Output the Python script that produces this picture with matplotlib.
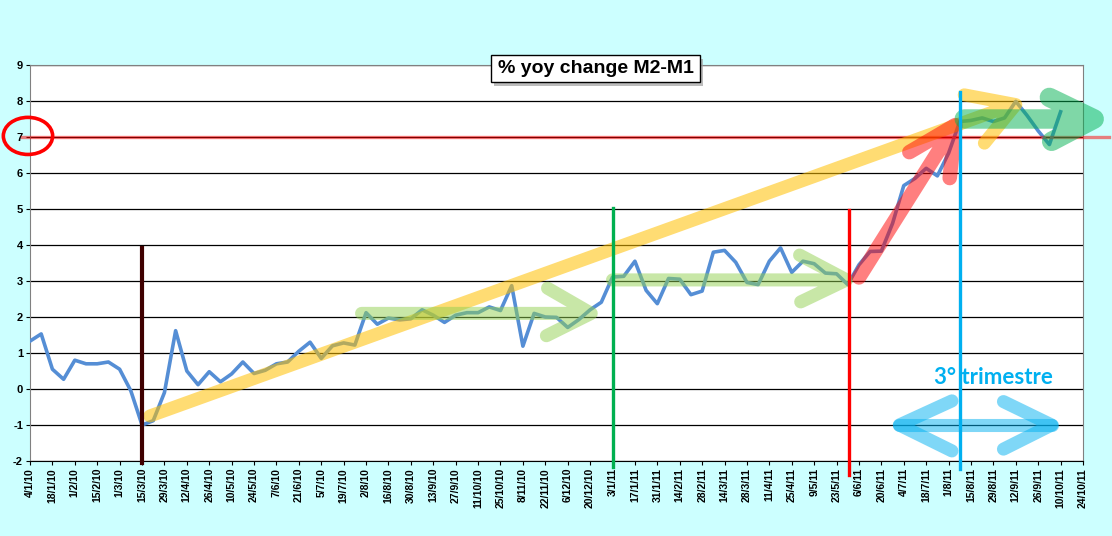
#!/usr/bin/env python3
# % yoy change M2-M1, weekly, Jan 2010 - Oct 2011, with hand-drawn trend arrows

import numpy as np
import matplotlib
matplotlib.use("Agg")
import matplotlib.pyplot as plt
from matplotlib.patches import Ellipse, Rectangle

plt.rcParams["font.family"] = ["Liberation Sans", "DejaVu Sans"]
plt.rcParams["axes.unicode_minus"] = False

# tick labels, one every second week (week index 0, 2, ..., 94)
tick_labels = [
    "4/1/10", "18/1/10", "1/2/10", "15/2/10", "1/3/10", "15/3/10", "29/3/10",
    "12/4/10", "26/4/10", "10/5/10", "24/5/10", "7/6/10", "21/6/10", "5/7/10",
    "19/7/10", "2/8/10", "16/8/10", "30/8/10", "13/9/10", "27/9/10", "11/10/10",
    "25/10/10", "8/11/10", "22/11/10", "6/12/10", "20/12/10", "3/1/11",
    "17/1/11", "31/1/11", "14/2/11", "28/2/11", "14/3/11", "28/3/11", "11/4/11",
    "25/4/11", "9/5/11", "23/5/11", "6/6/11", "20/6/11", "4/7/11", "18/7/11",
    "1/8/11", "15/8/11", "29/8/11", "12/9/11", "26/9/11", "10/10/11", "24/10/11",
]

# weekly values (week 0 = 4/1/10)
m2_m1 = [
    1.33, 1.53, 0.55, 0.27, 0.80, 0.70, 0.70, 0.75, 0.55, -0.05,
    -1.00, -0.88, -0.10, 1.62, 0.50, 0.12, 0.48, 0.20, 0.42, 0.75,
    0.43, 0.52, 0.70, 0.75, 1.05, 1.30, 0.85, 1.20, 1.28, 1.22,
    2.12, 1.80, 1.97, 1.92, 1.95, 2.20, 2.05, 1.85, 2.05, 2.12,
    2.12, 2.28, 2.18, 2.87, 1.19, 2.10, 2.00, 1.99, 1.71, 1.93,
    2.20, 2.41, 3.11, 3.13, 3.55, 2.74, 2.37, 3.07, 3.05, 2.62,
    2.72, 3.80, 3.85, 3.52, 2.96, 2.90, 3.55, 3.92, 3.24, 3.55,
    3.48, 3.22, 3.20, 2.90, 3.45, 3.82, 3.83, 4.60, 5.65, 5.85,
    6.13, 5.92, 6.55, 7.43, 7.46, 7.53, 7.43, 7.53, 7.99, 7.60,
    7.17, 6.79, 7.70,
]
weeks = np.arange(len(m2_m1))

fig = plt.figure(figsize=(11.12, 5.36), dpi=100, facecolor="#ccffff")
ax = fig.add_axes([30/1112, 1-461/536, 1053/1112, 396/536])
ax.set_facecolor("white")

ax.set_xlim(0, 94)
ax.set_ylim(-2, 9)
ax.set_yticks(range(-2, 10))
ax.set_xticks(range(0, 95, 2))
ax.set_xticklabels(tick_labels, rotation=90, fontsize=7.5, fontweight="bold")
for t in ax.get_yticklabels():
    t.set_fontsize(8)
    t.set_fontweight("bold")
ax.tick_params(axis="both", length=3, width=0.8, pad=2)
ax.grid(axis="y", color="black", lw=0.9, zorder=1)
ax.set_axisbelow(True)
for s in ["left", "right", "top"]:
    ax.spines[s].set_color("#808080")
ax.spines["bottom"].set_color("black")

ax.plot(weeks, m2_m1, color="#558ed5", lw=2.6, zorder=3, solid_joinstyle="round")


def arrow(shaft, head, color, alpha, lw=9.4):
    # one path so overlapping strokes don't double the transparency
    xs = [shaft[0][0], shaft[1][0], np.nan, head[0][0], head[1][0], head[2][0]]
    ys = [shaft[0][1], shaft[1][1], np.nan, head[0][1], head[1][1], head[2][1]]
    ax.plot(xs, ys, color=color, alpha=alpha, lw=lw, solid_capstyle="round",
            solid_joinstyle="round", zorder=5, clip_on=False)


# yellow long-run trend
arrow([(10.7, -0.75), (87.6, 7.88)], [(83.4, 8.17), (88.0, 7.9), (85.2, 6.83)],
      "#ffc000", 0.55)
# light green flat 2010
arrow([(29.6, 2.1), (49.8, 2.1)], [(46.2, 2.8), (50.1, 2.1), (46.1, 1.48)],
      "#92d050", 0.5)
# light green flat 2011
arrow([(52.0, 3.03), (72.6, 3.03)], [(68.7, 3.72), (72.9, 3.03), (68.8, 2.42)],
      "#92d050", 0.5)
# red steep rise
arrow([(74.0, 3.1), (82.5, 7.3)], [(78.5, 6.58), (82.6, 7.33), (82.1, 5.86)],
      "#ff0000", 0.5, lw=10.5)
# green flat at the top
arrow([(83.4, 7.5), (94.5, 7.5)], [(91.0, 8.1), (95.0, 7.5), (91.2, 6.88)],
      "#00b050", 0.5, lw=14)
# light blue double arrow (quarter)
ax.plot([77.6, 91.2], [-1.0, -1.0], color="#00b0f0", alpha=0.5, lw=9.4,
        solid_capstyle="round", zorder=5)
xs = [82.3, 77.6, 82.3, np.nan, 86.9, 91.2, 86.9]
ys = [-0.33, -1.0, -1.72, np.nan, -0.35, -1.0, -1.67]
ax.plot(xs, ys, color="#00b0f0", alpha=0.5, lw=9.4, solid_capstyle="round",
        solid_joinstyle="round", zorder=5)

# vertical markers
ax.plot([10.0, 10.0], [-2.06, 3.92], color="#3f0000", lw=3.0, zorder=6, clip_on=False)
ax.plot([52.0, 52.0], [-2.17, 5.03], color="#00b050", lw=2.4, zorder=6, clip_on=False)
ax.plot([73.1, 73.1], [-2.39, 4.97], color="#ff0000", lw=2.4, zorder=6, clip_on=False)
ax.plot([83.0, 83.0], [-2.22, 8.25], color="#00b0f0", lw=2.4, zorder=6, clip_on=False)

# 7% threshold line and circle around the tick label
ax.plot([-0.7, 96.3], [7, 7], color="#ff0000", alpha=0.5, lw=2.4, zorder=4,
        clip_on=False)
ax.add_patch(Ellipse((-0.18, 7.03), 4.4, 1.03, fill=False, ec="#ff0000",
                     lw=2.6, zorder=7, clip_on=False))

ax.text(86.0, 0.31, "3° trimestre", color="#00b0f0", fontsize=16,
        fontweight="bold", family=["Lato", "DejaVu Sans"], ha="center",
        va="center", zorder=7)

# title box with shadow
fig.patches.append(Rectangle((494/1112, 1-86/536), 209/1112, 27/536,
                             transform=fig.transFigure, fc="#a0a0a0", ec="none",
                             alpha=0.7, zorder=8))
fig.patches.append(Rectangle((491/1112, 1-82/536), 209/1112, 27/536,
                             transform=fig.transFigure, fc="white", ec="black",
                             lw=1, zorder=9))
fig.text(595.5/1112, 1-68.5/536, "% yoy change M2-M1", ha="center", va="center",
         fontsize=14, fontweight="bold", zorder=10)

fig.savefig("out.png", dpi=100, facecolor=fig.get_facecolor())
